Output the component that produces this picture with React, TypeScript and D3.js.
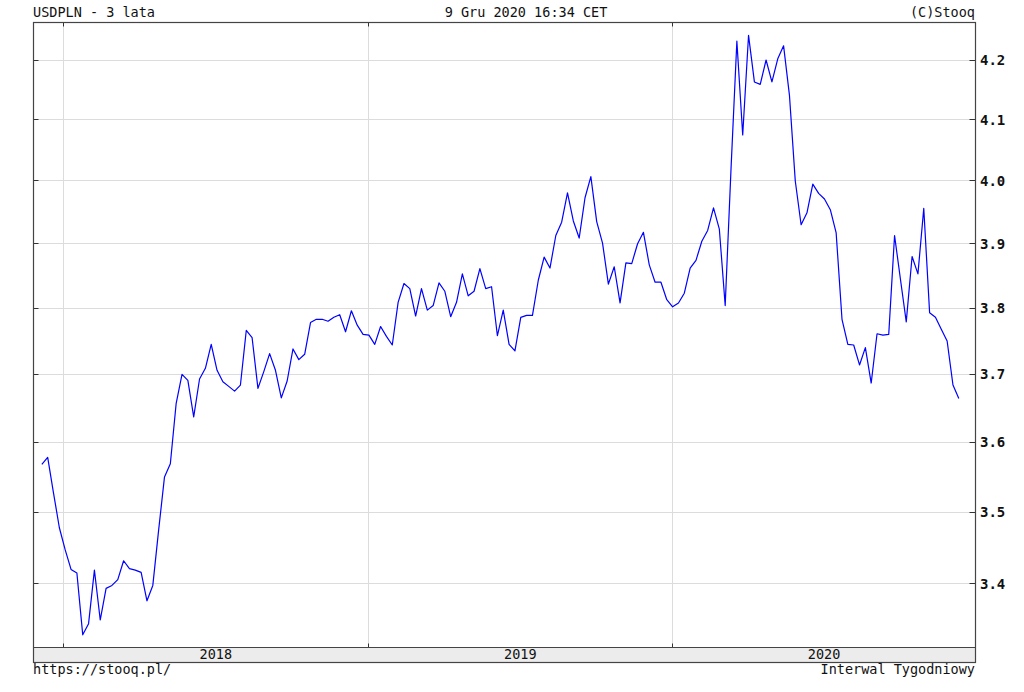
import React from "react";
import * as d3 from "d3";

const title = "USDPLN - 3 lata";
const stamp = "9 Gru 2020 16:34 CET";
const copyright = "(C)Stooq";
const footerLeft = "https://stooq.pl/";
const footerRight = "Interwal Tygodniowy";

const firstWeek = "2017-12-06";
const yTicks = [3.4, 3.5, 3.6, 3.7, 3.8, 3.9, 4.0, 4.1, 4.2];
const yearTicks = ["2018-01-01", "2019-01-01", "2020-01-01"];
const yearLabels = ["2018", "2019", "2020"];

const closes = [
  3.568, 3.578, 3.527, 3.478, 3.447, 3.420, 3.415, 3.331, 3.346, 3.419,
  3.351, 3.394, 3.398, 3.406, 3.432, 3.421, 3.419, 3.416, 3.377, 3.398,
  3.475, 3.550, 3.569, 3.657, 3.700, 3.691, 3.637, 3.693, 3.709, 3.745,
  3.706, 3.689, 3.682, 3.675, 3.684, 3.766, 3.755, 3.679, 3.704, 3.731,
  3.706, 3.665, 3.690, 3.738, 3.722, 3.730, 3.778, 3.783, 3.783, 3.780,
  3.786, 3.790, 3.764, 3.796, 3.774, 3.760, 3.759, 3.745, 3.772, 3.757,
  3.744, 3.809, 3.838, 3.830, 3.788, 3.830, 3.797, 3.804, 3.839, 3.826,
  3.787, 3.809, 3.853, 3.819, 3.826, 3.861, 3.830, 3.833, 3.758, 3.797,
  3.745, 3.735, 3.786, 3.789, 3.789, 3.843, 3.879, 3.862, 3.913, 3.934,
  3.981, 3.936, 3.909, 3.973, 4.007, 3.935, 3.901, 3.837, 3.864, 3.808,
  3.870, 3.869, 3.900, 3.918, 3.867, 3.840, 3.840, 3.813, 3.802, 3.808,
  3.823, 3.862, 3.874, 3.904, 3.921, 3.957, 3.923, 3.804, 4.020, 4.232,
  4.075, 4.242, 4.163, 4.159, 4.200, 4.163, 4.202, 4.224, 4.141, 4.000,
  3.930, 3.949, 3.995, 3.980, 3.971, 3.954, 3.917, 3.783, 3.745, 3.744,
  3.714, 3.740, 3.687, 3.761, 3.759, 3.760, 3.913, 3.845, 3.779, 3.880,
  3.853, 3.956, 3.793, 3.786, 3.768, 3.750, 3.684, 3.664,
];

const W = 1024;
const H = 692;
const L = 33.5;
const R = 975.5;
const T = 22.5;
const B = 647.5;
const BAND = 662.5;
const FONT = "'DejaVu Sans Mono', monospace";

export default function App() {
  const parse = d3.utcParse("%Y-%m-%d");
  const start = parse(firstWeek) as Date;
  const dates = closes.map((_, i) => d3.utcDay.offset(start, i * 7));

  const x = d3
    .scaleUtc()
    .domain([parse("2017-11-26") as Date, parse("2020-12-29") as Date])
    .range([L, R]);
  const y = d3.scaleLog().domain([3.314, 4.264]).range([B, T]);

  const line = d3
    .line<number>()
    .x((_, i) => x(dates[i]))
    .y((d) => y(d));

  const years = yearTicks.map((s) => parse(s) as Date);
  const yearEnds = [...years.slice(1), x.domain()[1]];
  const snap = (v: number) => Math.round(v - 0.5) + 0.5;

  return (
    <svg
      width={W}
      height={H}
      style={{ position: "absolute", left: 0, top: 0, background: "#fff" }}
      fontFamily={FONT}
    >
      <rect x={0} y={0} width={W} height={H} fill="#fff" />
      {/* horizontal grid */}
      {yTicks.map((t) => (
        <line key={"g" + t} x1={L} x2={R} y1={snap(y(t))} y2={snap(y(t))} stroke="#dcdcdc" strokeWidth={1} />
      ))}
      {/* vertical grid */}
      {years.map((d, i) => (
        <line key={"v" + i} x1={snap(x(d))} x2={snap(x(d))} y1={T} y2={B} stroke="#dcdcdc" strokeWidth={1} />
      ))}
      {/* ticks */}
      {yTicks.map((t) => (
        <g key={"t" + t}>
          <line x1={L} x2={L + 5} y1={snap(y(t))} y2={snap(y(t))} stroke="#333" />
          <line x1={R - 6} x2={R} y1={snap(y(t))} y2={snap(y(t))} stroke="#333" />
          <text x={980} y={y(t)} dy="0.36em" fontSize={14} fill="#111" fontWeight="bold">
            {t.toFixed(1)}
          </text>
        </g>
      ))}
      {years.map((d, i) => (
        <g key={"yt" + i}>
          <line x1={snap(x(d))} x2={snap(x(d))} y1={B - 4} y2={B} stroke="#333" />
          <line x1={snap(x(d))} x2={snap(x(d))} y1={T} y2={T + 4} stroke="#333" />
        </g>
      ))}
      {/* band */}
      <rect x={L} y={B} width={R - L} height={BAND - B} fill="#ececec" stroke="#444" strokeWidth={1} />
      {years.map((d, i) => (
        <text
          key={"yl" + i}
          x={(x(d) + x(yearEnds[i])) / 2}
          y={659}
          textAnchor="middle"
          fontSize={13.5}
          fill="#111"
        >
          {yearLabels[i]}
        </text>
      ))}
      {/* frame */}
      <rect x={L} y={T} width={R - L} height={BAND - T} fill="none" stroke="#444" strokeWidth={1.2} />
      {/* series */}
      <path d={line(closes) ?? ""} fill="none" stroke="#0000ff" strokeWidth={1.2} strokeLinejoin="round" />
      {/* texts */}
      <text x={33} y={17} fontSize={13.5} fill="#111">{title}</text>
      <text x={526} y={17} fontSize={13.5} fill="#111" textAnchor="middle">{stamp}</text>
      <text x={975} y={17} fontSize={13.5} fill="#111" textAnchor="end">{copyright}</text>
      <text x={33} y={674} fontSize={13.5} fill="#111">{footerLeft}</text>
      <text x={975} y={674} fontSize={13.5} fill="#111" textAnchor="end">{footerRight}</text>
    </svg>
  );
}
